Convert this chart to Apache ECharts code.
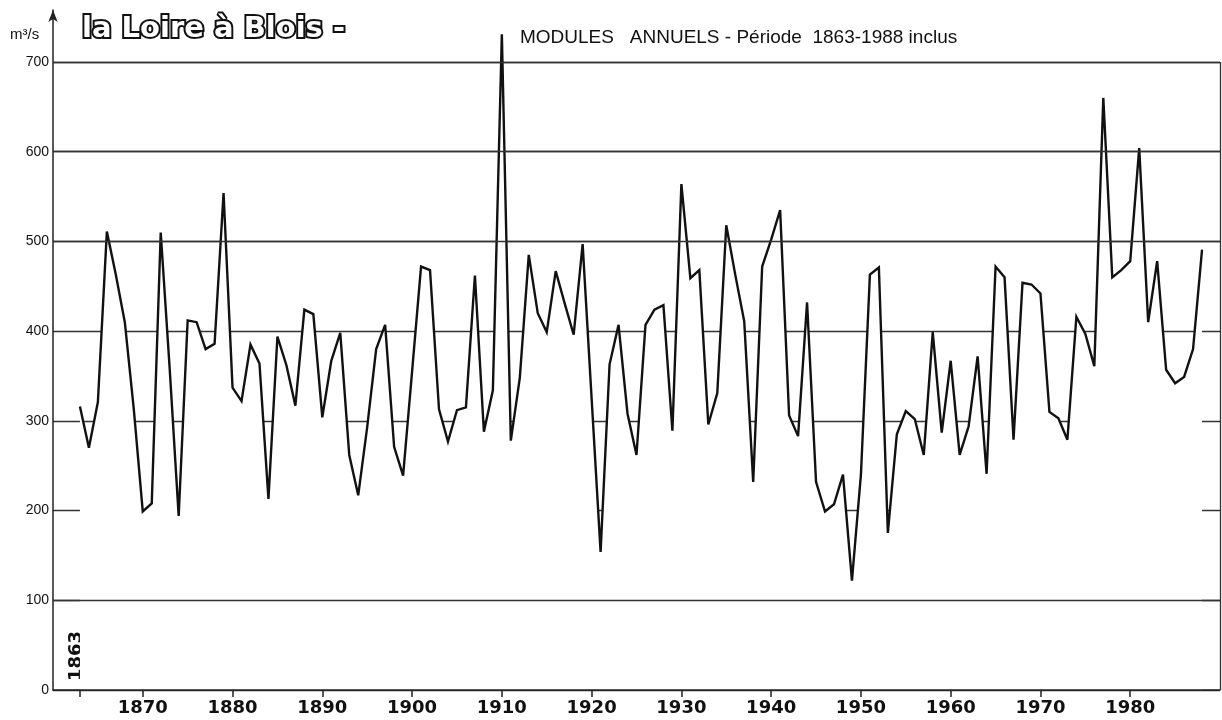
<!DOCTYPE html>
<html>
<head>
<meta charset="utf-8">
<title>la Loire à Blois - modules annuels</title>
<script src="https://cdn.jsdelivr.net/npm/echarts@6/dist/echarts.min.js"></script>
<style>
  html, body { margin: 0; padding: 0; background: #fff; }
  #chart { width: 1222px; height: 720px; }
</style>
</head>
<body>
<div id="chart"></div>
<script>
// modules annuels (m3/s), 1863 -> 1988
var firstYear = 1863;
var modules = [
  316, 270, 321, 511, 463, 410, 313,                 // 1863-1869
  199, 208, 510, 358, 194, 412, 410, 380, 386, 554,  // 1870-1879
  337, 322, 385, 364, 213, 394, 362, 317, 424, 419,  // 1880-1889
  304, 367, 398, 262, 217, 293, 380, 407, 271, 239,  // 1890-1899
  355, 472, 468, 313, 277, 312, 315, 462, 288, 334,  // 1900-1909
  731, 278, 348, 485, 420, 399, 467, 431, 396, 497,  // 1910-1919
  325, 154, 363, 407, 308, 262, 407, 424, 429, 289,  // 1920-1929
  564, 459, 468, 296, 331, 518, 463, 411, 232, 472,  // 1930-1939
  502, 535, 306, 283, 432, 232, 199, 207, 240, 122,  // 1940-1949
  240, 463, 471, 175, 285, 311, 302, 262, 399, 287,  // 1950-1959
  367, 262, 294, 372, 241, 472, 460, 279, 454, 452,  // 1960-1969
  442, 310, 303, 279, 416, 397, 361, 660, 460, 468,  // 1970-1979
  478, 604, 410, 478, 357, 342, 349, 380, 491        // 1980-1988
];
var labelYears = [1870, 1880, 1890, 1900, 1910, 1920, 1930, 1940, 1950, 1960, 1970, 1980];
var tickYears = [1863].concat(labelYears);
var yLabels = [0, 100, 200, 300, 400, 500, 600, 700];
var fullLines = [100, 500, 600, 700];  // lignes tracées en entier, les autres seulement sous la courbe

var points = [];
for (var i = 0; i < modules.length; i++) {
  points.push([firstYear + i, modules[i]]);
}

var chart = echarts.init(document.getElementById('chart'));

var markData = [];
for (var k = 0; k < fullLines.length; k++) {
  markData.push([{ coord: [1860, fullLines[k]] }, { coord: [1990, fullLines[k]] }]);
}
// bord droit du cadre
markData.push([{ coord: [1990, 0] }, { coord: [1990, 700] }]);

var option = {
  backgroundColor: '#fff',
  animation: false,
  title: [{
    text: 'la Loire à Blois -',
    left: 77,
    top: 10,
    textStyle: {
      fontFamily: 'DejaVu Sans',
      fontWeight: 'bold',
      fontSize: 29,
      color: '#fff',
      textBorderColor: '#111',
      textBorderWidth: 4,
      textShadowColor: '#111',
      textShadowOffsetX: 2,
      textShadowOffsetY: 2,
      textShadowBlur: 0
    }
  }, {
    text: 'MODULES   ANNUELS - Période  1863-1988 inclus',
    left: 515,
    top: 23,
    textStyle: {
      fontFamily: 'Liberation Sans',
      fontWeight: 'normal',
      fontSize: 19,
      color: '#111'
    }
  }],
  grid: { left: 53, right: 2, top: 10, bottom: 30 },
  xAxis: {
    type: 'value',
    min: 1860,
    max: 1990,
    interval: 10,
    z: 10,
    axisLine: { lineStyle: { color: '#222', width: 1.5 } },
    axisTick: { show: true, length: 7, customValues: tickYears, lineStyle: { color: '#222', width: 1.5 } },
    axisLabel: {
      customValues: labelYears,
      formatter: function (v) { return String(v); },
      margin: 9,
      color: '#111',
      fontFamily: 'DejaVu Sans',
      fontWeight: 'bold',
      fontSize: 18
    },
    splitLine: { show: false }
  },
  yAxis: {
    type: 'value',
    min: 0,
    max: 758,
    interval: 100,
    axisLine: {
      show: true,
      symbol: ['none', 'arrow'],
      symbolSize: [7, 12],
      lineStyle: { color: '#222', width: 1.5 }
    },
    axisTick: { show: false },
    axisLabel: {
      customValues: yLabels,
      margin: 4,
      color: '#111',
      fontFamily: 'Liberation Sans',
      fontSize: 14
    },
    splitLine: { show: true, showMaxLine: false, lineStyle: { color: '#333', width: 1.3 } }
  },
  graphic: [{
    type: 'text',
    x: 76,
    y: 656,
    rotation: Math.PI / 2,
    style: {
      text: '1863',
      font: 'bold 18px "DejaVu Sans"',
      fill: '#111',
      align: 'center',
      verticalAlign: 'middle'
    }
  }, {
    type: 'text',
    x: 10,
    y: 27,
    style: {
      text: 'm³/s',
      font: '15px "Liberation Sans"',
      fill: '#111'
    }
  }],
  series: [{
    name: 'modules',
    type: 'line',
    data: points,
    symbol: 'none',
    showSymbol: false,
    z: 2,
    lineStyle: { color: '#111', width: 2.4, join: 'miter', miterLimit: 4 },
    areaStyle: { color: '#fff', opacity: 1, origin: 'start' },
    markLine: {
      silent: true,
      symbol: 'none',
      z: 5,
      label: { show: false },
      lineStyle: { color: '#333', width: 1.3, type: 'solid' },
      data: markData
    }
  }]
};

chart.setOption(option);
</script>
</body>
</html>
